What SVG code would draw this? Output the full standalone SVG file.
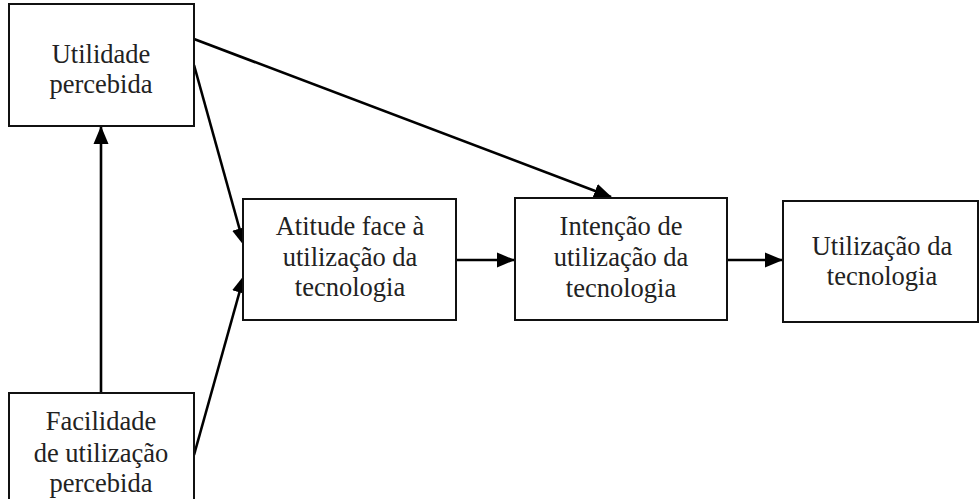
<svg xmlns="http://www.w3.org/2000/svg" width="979" height="499" viewBox="0 0 979 499">
<style>
.box{fill:#fff;stroke:#111;stroke-width:2}
.t{font-family:"Liberation Serif","Times New Roman",serif;font-size:26.5px;fill:#222;text-anchor:middle}
.c{stroke:#000;stroke-width:2.6;fill:none;marker-end:url(#ah)}
</style>
<defs>
<marker id="ah" markerUnits="userSpaceOnUse" markerWidth="18" markerHeight="16" refX="17" refY="8" orient="auto">
<path d="M0,0.5 L18,8 L0,15.5 Z" fill="#000"/>
</marker>
</defs>
<rect width="979" height="499" fill="#fff"/>
<g id="connectors">
<line class="c" x1="101" y1="393" x2="101" y2="127"/>
<line class="c" x1="194" y1="39" x2="611" y2="197"/>
<line class="c" x1="194" y1="65" x2="244" y2="245"/>
<line class="c" x1="194" y1="455" x2="244" y2="276"/>
<line class="c" x1="456" y1="260" x2="514" y2="260"/>
<line class="c" x1="727" y1="260" x2="782" y2="260"/>
</g>
<g id="utilidade">
<rect class="box" x="9" y="4" width="185" height="122"/>
<text class="t" x="101" y="63">Utilidade</text>
<text class="t" x="101" y="93">percebida</text>
</g>
<g id="facilidade">
<rect class="box" x="9" y="393" width="185" height="120"/>
<text class="t" x="101" y="430">Facilidade</text>
<text class="t" x="101" y="462">de utilização</text>
<text class="t" x="101" y="492">percebida</text>
</g>
<g id="atitude">
<rect class="box" x="243" y="199" width="213" height="121"/>
<text class="t" x="350" y="235">Atitude face à</text>
<text class="t" x="350" y="266">utilização da</text>
<text class="t" x="350" y="296">tecnologia</text>
</g>
<g id="intencao">
<rect class="box" x="515" y="198" width="212" height="122"/>
<text class="t" x="621" y="235">Intenção de</text>
<text class="t" x="621" y="266">utilização da</text>
<text class="t" x="621" y="297">tecnologia</text>
</g>
<g id="utilizacao">
<rect class="box" x="783" y="201" width="195" height="121"/>
<text class="t" x="882" y="255">Utilização da</text>
<text class="t" x="882" y="285">tecnologia</text>
</g>
</svg>
